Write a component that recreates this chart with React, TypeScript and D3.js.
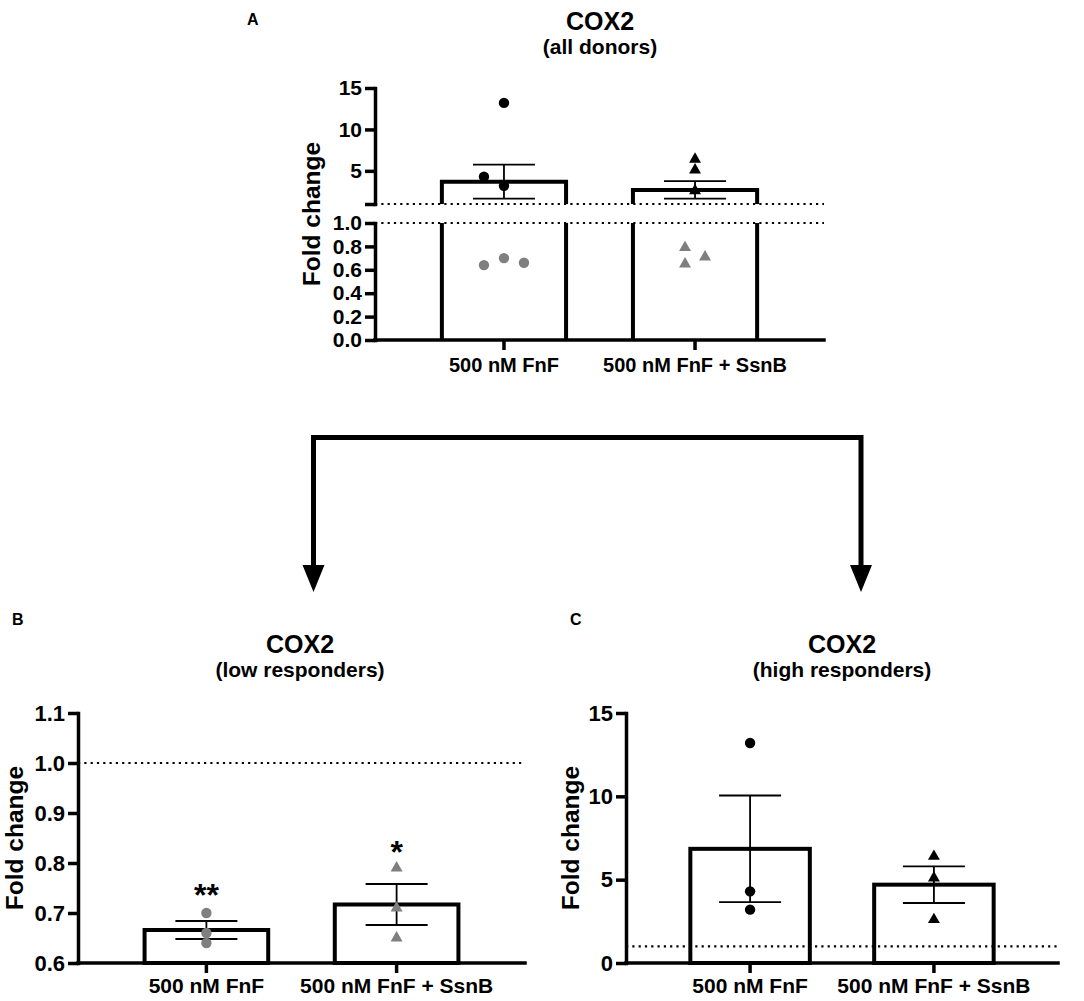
import React, { useEffect, useRef } from "react";
import * as d3 from "d3";

const categories = ["500 nM FnF", "500 nM FnF + SsnB"];

// panel A: all donors (low + high responders together)
const allMean = [3.7, 2.7];
const allSem = [2.05, 1.05];

// panel B: low responders (grey markers)
const lowFnF = [0.7, 0.66, 0.64];
const lowSsnB = [0.79, 0.71, 0.65];
const lowMean = [0.666, 0.717];
const lowSem = [0.018, 0.041];
const lowStars = ["**", "*"];
const lowStarLevel = [0.75, 0.836];

// panel C: high responders (black markers)
const highFnF = [13.2, 4.3, 3.2];
const highSsnB = [6.4, 5.1, 2.6];
const highMean = [6.85, 4.7];
const highSem = [3.2, 1.1];

// swarm column of each point in panel A (same order as the value arrays)
const swarmLowFnF = [0, 1, -1];
const swarmLowSsnB = [-0.5, 0.5, -0.5];
const swarmHighFnF = [0, -1, 0];
const swarmHighSsnB = [0, 0, 0];

const ticksAUpper = [1, 5, 10, 15];
const ticksALower = [0, 0.2, 0.4, 0.6, 0.8, 1.0];
const ticksB = [0.6, 0.7, 0.8, 0.9, 1.0, 1.1];
const ticksC = [0, 5, 10, 15];

const FONT = "'Liberation Sans', Arial, Helvetica, sans-serif";
const GREY = "#7f7f7f";
const AXIS_W = 3.5;
const BAR_W = 4;
const ERR_W = 1.8;
const CAP = 31;
const SWARM_STEP = 20;
const DOTS = "2.2 4.1";

type G = d3.Selection<SVGGElement, unknown, null, undefined>;

const circle = d3.symbol().type(d3.symbolCircle).size(85);
const triangle = d3.symbol().type(d3.symbolTriangle).size(62);

function text(g: G, x: number, y: number, s: string, size: number, anchor = "middle") {
  return g
    .append("text")
    .attr("x", x)
    .attr("y", y)
    .attr("text-anchor", anchor)
    .attr("font-size", size)
    .attr("font-weight", "bold")
    .text(s);
}

function yAxis(g: G, y: d3.ScaleLinear<number, number>, x: number, ticks: number[], fmt: (d: number) => string, size: number) {
  const ax = g
    .append("g")
    .attr("transform", `translate(${x},0)`)
    .call(
      d3
        .axisLeft(y)
        .tickValues(ticks)
        .tickFormat((d) => fmt(d as number))
        .tickSize(10)
        .tickSizeOuter(0)
        .tickPadding(3)
    );
  ax.attr("font-family", FONT).attr("font-size", size).attr("font-weight", "bold");
  ax.select(".domain").attr("stroke-width", AXIS_W).attr("stroke-linecap", "square");
  ax.selectAll(".tick line").attr("stroke-width", AXIS_W);
  ax.selectAll(".tick text").attr("fill", "#000");
}

function xAxis(g: G, x: d3.ScaleBand<string>, y0: number, size: number, pad: number) {
  const ax = g
    .append("g")
    .attr("transform", `translate(0,${y0})`)
    .call(d3.axisBottom(x).tickSize(10).tickSizeOuter(0).tickPadding(pad));
  ax.attr("font-family", FONT).attr("font-size", size).attr("font-weight", "bold");
  ax.select(".domain").remove();
  const [r0, r1] = x.range();
  ax.append("line").attr("x1", r0).attr("x2", r1).attr("stroke", "#000").attr("stroke-width", AXIS_W).attr("stroke-linecap", "square");
  ax.selectAll(".tick line").attr("stroke-width", AXIS_W);
  ax.selectAll(".tick text").attr("fill", "#000");
}

function dotted(g: G, x1: number, x2: number, yy: number) {
  g.append("line").attr("x1", x1).attr("x2", x2).attr("y1", yy).attr("y2", yy)
    .attr("stroke", "#000").attr("stroke-width", 2.2).attr("stroke-dasharray", DOTS);
}

function errorBar(g: G, cx: number, yHi: number, yLo: number) {
  const p = d3.path();
  p.moveTo(cx, yHi);
  p.lineTo(cx, yLo);
  p.moveTo(cx - CAP, yHi);
  p.lineTo(cx + CAP, yHi);
  p.moveTo(cx - CAP, yLo);
  p.lineTo(cx + CAP, yLo);
  g.append("path").attr("d", p.toString()).attr("fill", "none").attr("stroke", "#000").attr("stroke-width", ERR_W);
}

function points(g: G, values: number[], cx: number, yOf: (v: number) => number, shape: d3.Symbol<any, any>, color: string, cols?: number[]) {
  g.selectAll(null)
    .data(values)
    .enter()
    .append("path")
    .attr("d", shape as any)
    .attr("transform", (v, i) => `translate(${cx + (cols ? cols[i] * SWARM_STEP : 0)},${yOf(v)})`)
    .attr("fill", color);
}

function headings(g: G, letter: string, letterX: number, letterY: number, titleX: number, titleY: number, sub: string) {
  text(g, letterX, letterY, letter, 16, "start");
  text(g, titleX, titleY, "COX2", 25);
  text(g, titleX, titleY + 24, sub, 21);
}

function yLabel(g: G, x: number, y: number) {
  g.append("text")
    .attr("transform", `translate(${x},${y}) rotate(-90)`)
    .attr("text-anchor", "middle")
    .attr("font-size", 24.5)
    .attr("font-weight", "bold")
    .text("Fold change");
}

// ---------- panel A (broken y axis) ----------
function panelA(g: G) {
  const left = 375;
  const right = 824;
  const x = d3.scaleBand<string>().domain(categories).range([left, right]).paddingInner(0.35).paddingOuter(0.35);
  const yUp = d3.scaleLinear().domain([1, 15]).range([204, 88]);
  const yLow = d3.scaleLinear().domain([0, 1]).range([340, 223]);
  const yOf = (v: number) => (v >= 1 ? yUp(v) : yLow(v));

  headings(g, "A", 247, 25, 600, 30, "(all donors)");
  yLabel(g, 320, 214);

  // reference lines at 1 on both segments
  dotted(g, left, right, yUp(1));
  dotted(g, left, right, yLow(1));

  // bars split over the axis break
  categories.forEach((c, i) => {
    const x0 = x(c)!;
    const x1 = x0 + x.bandwidth();
    const p = d3.path();
    p.moveTo(x0, yLow(0));
    p.lineTo(x0, yLow(1));
    p.moveTo(x1, yLow(0));
    p.lineTo(x1, yLow(1));
    p.moveTo(x0, yUp(1));
    p.lineTo(x0, yUp(allMean[i]));
    p.lineTo(x1, yUp(allMean[i]));
    p.lineTo(x1, yUp(1));
    g.append("path").attr("d", p.toString()).attr("fill", "none").attr("stroke", "#000")
      .attr("stroke-width", BAR_W).attr("stroke-linejoin", "miter");
    errorBar(g, x0 + x.bandwidth() / 2, yUp(allMean[i] + allSem[i]), yUp(allMean[i] - allSem[i]));
  });

  const c0 = x(categories[0])! + x.bandwidth() / 2;
  const c1 = x(categories[1])! + x.bandwidth() / 2;
  points(g, lowFnF, c0, yOf, circle, GREY, swarmLowFnF);
  points(g, highFnF, c0, yOf, circle, "#000", swarmHighFnF);
  points(g, lowSsnB, c1, yOf, triangle, GREY, swarmLowSsnB);
  points(g, highSsnB, c1, yOf, triangle, "#000", swarmHighSsnB);

  yAxis(g, yUp, left, ticksAUpper, (d) => (d === 1 ? "" : String(d)), 21);
  yAxis(g, yLow, left, ticksALower, d3.format(".1f"), 21);
  xAxis(g, x, yLow(0), 20, 8);
}

// ---------- panels B and C ----------
interface SimpleOpts {
  left: number;
  right: number;
  y: d3.ScaleLinear<number, number>;
  ticks: number[];
  fmt: (d: number) => string;
  mean: number[];
  sem: number[];
  fnf: number[];
  ssnb: number[];
  color: string;
}

function simplePanel(g: G, o: SimpleOpts) {
  const x = d3.scaleBand<string>().domain(categories).range([o.left, o.right]).paddingInner(0.35).paddingOuter(0.35);
  const base = o.y.domain()[0];

  categories.forEach((c, i) => {
    g.append("rect")
      .attr("x", x(c)!)
      .attr("y", o.y(o.mean[i]))
      .attr("width", x.bandwidth())
      .attr("height", o.y(base) - o.y(o.mean[i]))
      .attr("fill", "#fff")
      .attr("stroke", "#000")
      .attr("stroke-width", BAR_W);
  });

  // dotted line at 1 runs over the bars
  dotted(g, o.left, o.right, o.y(1));

  categories.forEach((c, i) => {
    errorBar(g, x(c)! + x.bandwidth() / 2, o.y(o.mean[i] + o.sem[i]), o.y(o.mean[i] - o.sem[i]));
  });

  const c0 = x(categories[0])! + x.bandwidth() / 2;
  const c1 = x(categories[1])! + x.bandwidth() / 2;
  points(g, o.fnf, c0, o.y, circle, o.color);
  points(g, o.ssnb, c1, o.y, triangle, o.color);

  yAxis(g, o.y, o.left, o.ticks, o.fmt, 22);
  xAxis(g, x, o.y(base), 21, 5);
  return x;
}

function panelB(g: G) {
  const y = d3.scaleLinear().domain([0.6, 1.1]).range([963, 713]);
  headings(g, "B", 12, 625, 300, 653, "(low responders)");
  yLabel(g, 23, 838);
  const x = simplePanel(g, {
    left: 78, right: 525, y, ticks: ticksB, fmt: d3.format(".1f"),
    mean: lowMean, sem: lowSem, fnf: lowFnF, ssnb: lowSsnB, color: GREY,
  });
  categories.forEach((c, i) => {
    g.append("text")
      .attr("x", x(c)! + x.bandwidth() / 2)
      .attr("y", y(lowStarLevel[i]) + 18)
      .attr("text-anchor", "middle")
      .attr("font-size", 32)
      .attr("font-weight", "bold")
      .text(lowStars[i]);
  });
}

function panelC(g: G) {
  const y = d3.scaleLinear().domain([0, 15]).range([963, 713]);
  headings(g, "C", 570, 625, 842, 653, "(high responders)");
  yLabel(g, 579, 838);
  simplePanel(g, {
    left: 626, right: 1058, y, ticks: ticksC, fmt: (d) => String(d),
    mean: highMean, sem: highSem, fnf: highFnF, ssnb: highSsnB, color: "#000",
  });
}

// arrow splitting panel A into B and C
function arrow(g: G) {
  const xl = 313.5;
  const xr = 861;
  const yTop = 437.5;
  const yHead = 565;
  const tip = 592;
  g.append("path")
    .attr("d", `M${xl},${yHead + 2}V${yTop}H${xr}V${yHead + 2}`)
    .attr("fill", "none").attr("stroke", "#000").attr("stroke-width", 5).attr("stroke-linejoin", "miter");
  [xl, xr].forEach((xx) =>
    g.append("path").attr("d", `M${xx - 11},${yHead}L${xx + 11},${yHead}L${xx},${tip}Z`).attr("fill", "#000")
  );
}

function MakeFigure(ref: React.RefObject<SVGSVGElement | null>) {
  const svg = d3.select(ref.current!);
  svg.selectAll("*").remove();
  const g = svg.append("g") as unknown as G;
  panelA(g);
  arrow(g);
  panelB(g);
  panelC(g);
}

const App = () => {
  const ref = useRef<SVGSVGElement>(null);
  useEffect(() => {
    MakeFigure(ref);
  }, []);
  return (
    <svg
      ref={ref}
      width={1084}
      height={1001}
      style={{ position: "absolute", left: 0, top: 0, background: "#fff" }}
      fontFamily={FONT}
    />
  );
};

export default App;
